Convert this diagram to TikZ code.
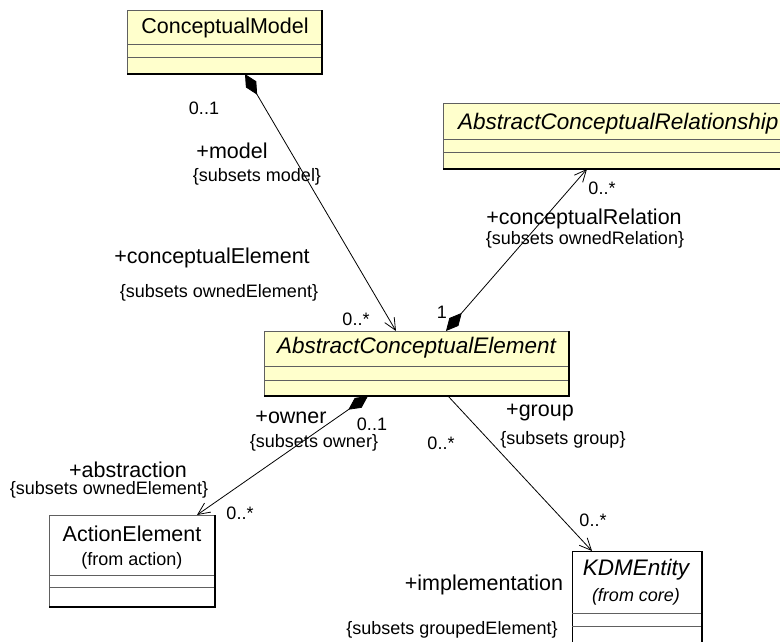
\documentclass[tikz,border=0pt]{standalone}
\usepackage{fontspec}
\setmainfont{Liberation Sans}
\usetikzlibrary{arrows.meta,calc}
\definecolor{umlyellow}{HTML}{FFFFCC}
\definecolor{linegray}{HTML}{606060}
\begin{document}
\begin{tikzpicture}[x=1pt,y=-1pt,
  big/.style={font=\fontsize{21.5}{24}\selectfont, inner sep=0},
  bigit/.style={font=\fontsize{22.5}{24}\selectfont\itshape, inner sep=0},
  small/.style={font=\fontsize{18}{20}\selectfont, inner sep=0},
  box/.style={anchor=north west, inner sep=0, outer sep=0, draw=linegray, line width=1pt},
  ybox/.style={box, fill=umlyellow},
  wbox/.style={box, fill=white},
  conn/.style={line width=0.8pt, draw=black},
  comp/.style={draw=linegray, line width=1pt},
  shade/.style={draw=black, line width=2pt},
  compose/.style={{Diamond[length=24pt,width=12pt]}-{Straight Barb[length=12pt,width=11pt]}},
  navig/.style={-{Straight Barb[length=12pt,width=11pt]}}
]
\useasboundingbox (0,0) rectangle (780,641);
\clip (0,0) rectangle (780,641);

% ConceptualModel
\node[ybox, minimum width=195pt, minimum height=64pt] (cm) at (127,10) {};
\draw[comp] ([yshift=-34pt]cm.north west) -- ([yshift=-34pt]cm.north east);
\draw[comp] ([yshift=-47pt]cm.north west) -- ([yshift=-47pt]cm.north east);
\draw[shade] (cm.north east) -- (cm.south east) -- (cm.south west);
\node[big] (cmname) at (225,28) {ConceptualModel};

% AbstractConceptualRelationship
\node[ybox, minimum width=350pt, minimum height=66pt] (acr) at (443,103) {};
\draw[comp] ([yshift=-36pt]acr.north west) -- ([yshift=-36pt]acr.north east);
\draw[comp] ([yshift=-49pt]acr.north west) -- ([yshift=-49pt]acr.north east);
\draw[shade] (acr.south west) -- (acr.south east);
\node[bigit, anchor=west] (acrname) at (458,124) {AbstractConceptualRelationship};

% AbstractConceptualElement
\node[ybox, minimum width=305pt, minimum height=65pt] (ace) at (264,331) {};
\draw[comp] ([yshift=-35pt]ace.north west) -- ([yshift=-35pt]ace.north east);
\draw[comp] ([yshift=-49pt]ace.north west) -- ([yshift=-49pt]ace.north east);
\draw[shade] (ace.north east) -- (ace.south east) -- (ace.south west);
\node[bigit] (acename) at (416.5,348) {AbstractConceptualElement};

% ActionElement
\node[wbox, minimum width=166pt, minimum height=92pt] (ae) at (49,515) {};
\draw[comp] ([yshift=-60pt]ae.north west) -- ([yshift=-60pt]ae.north east);
\draw[comp] ([yshift=-72pt]ae.north west) -- ([yshift=-72pt]ae.north east);
\draw[shade] (ae.north east) -- (ae.south east) -- (ae.south west);
\node[big] (aename) at (132,534) {ActionElement};
\node[small] (aefrom) at (132,561) {(from action)};

% KDMEntity
\node[wbox, draw=black, minimum width=130pt, minimum height=95pt] (kdm) at (572,551) {};
\draw[comp] ([yshift=-62pt]kdm.north west) -- ([yshift=-62pt]kdm.north east);
\draw[comp] ([yshift=-75pt]kdm.north west) -- ([yshift=-75pt]kdm.north east);
\draw[shade] (kdm.north east) -- (kdm.south east);
\node[bigit] (kdmname) at (636,570) {KDMEntity};
\node[small] (kdmfrom) at (636,597) {\itshape (from core)};

% Connectors
\draw[conn, compose] ([xshift=118pt]cm.south west) -- ([xshift=132pt]ace.north west);
\draw[conn, compose] ([xshift=182pt]ace.north west) -- ([xshift=144pt]acr.south west);
\draw[conn, compose] ([xshift=104pt]ace.south west) -- ([xshift=148pt]ae.north west);
\draw[conn, navig] ([xshift=184pt]ace.south west) -- ([xshift=20pt]kdm.north west);

% Labels: ConceptualModel - AbstractConceptualElement
\node[small] (l01a) at (204,108) {0..1};
\node[big] (lmodel) at (232,151) {+model};
\node[small] (lsubmodel) at (257,177) {\{subsets model\}};
\node[big] (lcelem) at (212,258) {+conceptualElement};
\node[small] (lsubce) at (219,293) {\{subsets ownedElement\}};
\node[small] (l0sa) at (356,319) {0..*};

% Labels: ACE - ACR
\node[small] (l1) at (442,312) {1};
\node[small] (l0sb) at (602,188) {0..*};
\node[big] (lcrel) at (584,219) {+conceptualRelation};
\node[small] (lsubcr) at (585,240) {\{subsets ownedRelation\}};

% Labels: ACE - ActionElement
\node[big] (lowner) at (291,417) {+owner};
\node[small] (l01b) at (372,424) {0..1};
\node[small] (lsubowner) at (314,443) {\{subsets owner\}};
\node[big] (labs) at (128,470) {+abstraction};
\node[small] (lsubabs) at (109,490) {\{subsets ownedElement\}};
\node[small] (l0sc) at (240,513) {0..*};

% Labels: ACE - KDMEntity
\node[big] (lgroup) at (540,413) {+group};
\node[small] (lsubgroup) at (563,440) {\{subsets group\}};
\node[small] (l0sd) at (441,443) {0..*};
\node[small] (l0se) at (593,520) {0..*};
\node[big] (limpl) at (484,585) {+implementation};
\node[small] (lsubimpl) at (452,630) {\{subsets groupedElement\}};
\end{tikzpicture}
\end{document}
